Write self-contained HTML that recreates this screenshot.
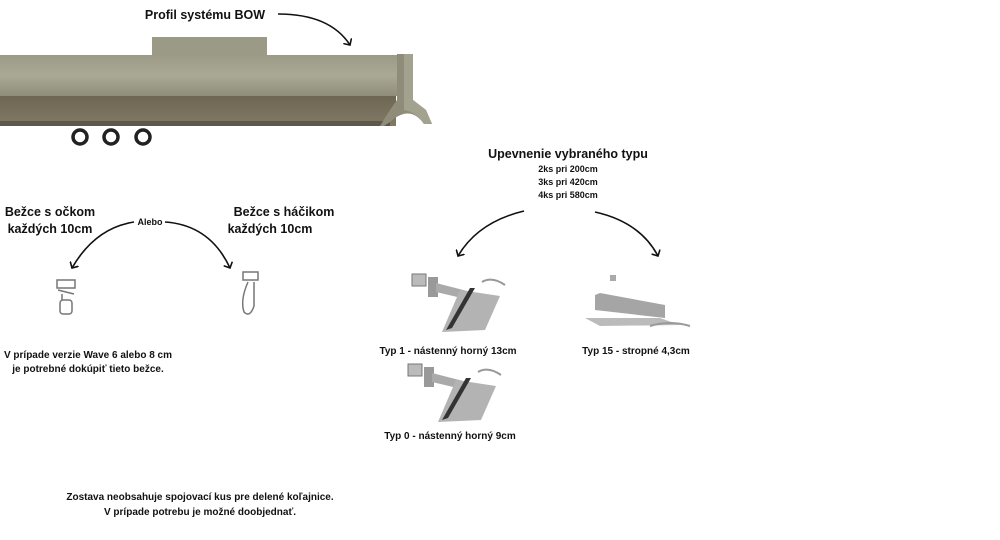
<!DOCTYPE html>
<html><head><meta charset="utf-8"><style>
body{margin:0;background:#fff;width:1000px;height:540px;overflow:hidden}
svg{display:block}
text{font-family:"Liberation Sans",sans-serif;font-weight:bold;fill:#111}
</style></head><body>
<svg width="1000" height="540" viewBox="0 0 1000 540">
<defs>
<linearGradient id="top" x1="0" y1="0" x2="0" y2="1"><stop offset="0" stop-color="#9a9a86"/><stop offset="0.5" stop-color="#aaa995"/><stop offset="1" stop-color="#8f8e7a"/></linearGradient>
<linearGradient id="bot" x1="0" y1="0" x2="0" y2="1"><stop offset="0" stop-color="#6d6652"/><stop offset="1" stop-color="#827a66"/></linearGradient>
<marker id="ah" markerWidth="10" markerHeight="10" refX="5" refY="5" orient="auto" markerUnits="userSpaceOnUse"><path d="M0,0 L5,5 L0,10" fill="none" stroke="#111" stroke-width="1.6"/></marker>
</defs>
<!-- rail -->
<rect x="152" y="37" width="115" height="18" fill="#9b9a86"/>
<rect x="0" y="55" width="400" height="41" fill="url(#top)"/>
<rect x="0" y="96" width="396" height="30" fill="url(#bot)"/>
<rect x="0" y="121" width="390" height="5" fill="#5e584a"/>
<path d="M397,54 L413,54 L413,100 L426,110 L432,124 L424,124 Q410,104 390,122 L384,126 L380,126 L390,110 L397,100 Z" fill="#8f8d79"/>
<path d="M404,54 L413,54 L413,100 L426,110 L432,124 L424,124 Q416,112 404,110 Z" fill="#a3a28e"/>
<g fill="none" stroke="#222" stroke-width="3.5">
<circle cx="80" cy="137" r="7"/><circle cx="111" cy="137" r="7"/><circle cx="143" cy="137" r="7"/></g>
<text x="205" y="19" font-size="12.5" text-anchor="middle">Profil systému BOW</text>
<path d="M278,14 Q330,14 350,45" fill="none" stroke="#111" stroke-width="1.6" marker-end="url(#ah)"/>
<!-- left -->
<text x="50" y="216" font-size="12.5" text-anchor="middle">Bežce s očkom</text>
<text x="50" y="233" font-size="12.5" text-anchor="middle">každých 10cm</text>
<text x="284" y="216" font-size="12.5" text-anchor="middle">Bežce s háčikom</text>
<text x="270" y="233" font-size="12.5" text-anchor="middle">každých 10cm</text>
<text x="150" y="225" font-size="9" text-anchor="middle">Alebo</text>
<path d="M134,222 Q95,228 72,268" fill="none" stroke="#111" stroke-width="1.6" marker-end="url(#ah)"/>
<path d="M165,222 Q210,225 230,268" fill="none" stroke="#111" stroke-width="1.6" marker-end="url(#ah)"/>
<g fill="none" stroke="#777" stroke-width="1.5">
<rect x="57" y="280" width="18" height="8"/><rect x="60" y="300" width="12" height="14" rx="3"/><path d="M58,290 L74,294 M62,294 L62,300"/>
<rect x="243" y="272" width="15" height="8"/><path d="M248,282 Q240,300 244,312 Q250,318 254,306 L254,282"/></g>
<text x="88" y="358" font-size="10" text-anchor="middle">V prípade verzie Wave 6 alebo 8 cm</text>
<text x="88" y="372" font-size="10" text-anchor="middle">je potrebné dokúpiť tieto bežce.</text>
<text x="200" y="500" font-size="10" text-anchor="middle">Zostava neobsahuje spojovací kus pre delené koľajnice.</text>
<text x="200" y="515" font-size="10" text-anchor="middle">V prípade potrebu je možné doobjednať.</text>
<!-- right -->
<text x="568" y="158" font-size="12.5" text-anchor="middle">Upevnenie vybraného typu</text>
<text x="568" y="172" font-size="9" text-anchor="middle">2ks pri 200cm</text>
<text x="568" y="185" font-size="9" text-anchor="middle">3ks pri 420cm</text>
<text x="568" y="198" font-size="9" text-anchor="middle">4ks pri 580cm</text>
<path d="M524,211 Q478,222 458,256" fill="none" stroke="#111" stroke-width="1.6" marker-end="url(#ah)"/>
<path d="M595,212 Q640,222 658,256" fill="none" stroke="#111" stroke-width="1.6" marker-end="url(#ah)"/>
<!-- brackets -->
<g id="b1">
<rect x="412" y="274" width="14" height="12" fill="#bbb" stroke="#777"/>
<rect x="428" y="277" width="10" height="20" fill="#999"/>
<path d="M436,283 L475,293 L470,300 L436,292 Z" fill="#aaa"/>
<path d="M460,290 L500,296 L485,330 L442,332 Z" fill="#b3b3b3"/>
<path d="M475,288 L452,328 L446,330 L470,288 Z" fill="#333"/>
<path d="M482,282 Q492,276 505,285" fill="none" stroke="#999" stroke-width="2"/>
</g>
<use href="#b1" transform="translate(-4,90)"/>
<text x="448" y="354" font-size="10" text-anchor="middle">Typ 1 - nástenný horný 13cm</text>
<text x="450" y="439" font-size="10" text-anchor="middle">Typ 0 - nástenný horný 9cm</text>
<rect x="610" y="275" width="6" height="6" fill="#aaa"/>
<path d="M595,295 L600,293 L665,305 L665,318 L595,310 Z" fill="#a5a5a5"/>
<path d="M585,318 L660,318 L680,325 L600,326 Z" fill="#bbb"/>
<path d="M650,326 Q670,320 690,326" fill="none" stroke="#999" stroke-width="2"/>
<text x="636" y="354" font-size="10" text-anchor="middle">Typ 15 - stropné  4,3cm</text>
</svg>
</body></html>
